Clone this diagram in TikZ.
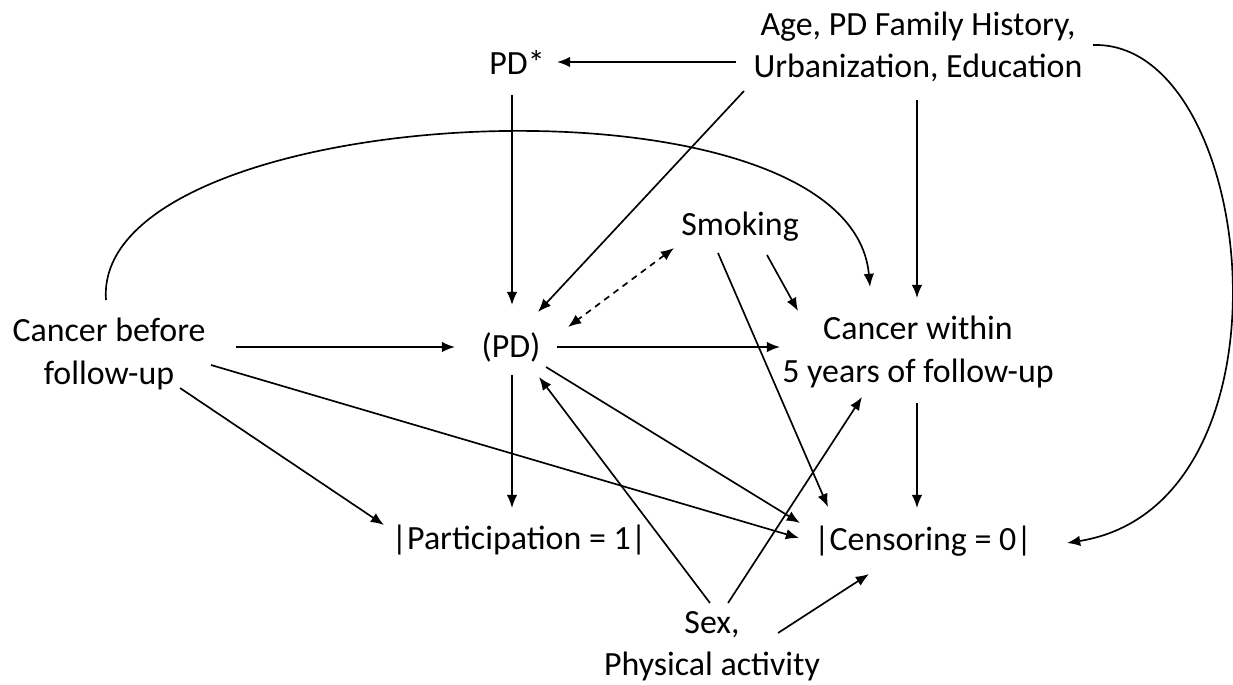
\documentclass[tikz,border=0pt]{standalone}
\usepackage{fontspec}
\setmainfont{Carlito}
\usetikzlibrary{arrows.meta,calc}

\begin{document}
\begin{tikzpicture}[x=0.02cm, y=-0.02cm,
		lbl/.style={align=center, inner sep=0pt, font=\fontsize{19.3}{24}\selectfont},
		>={Latex[length=7.5pt,width=6pt]}, line width=0.95pt]
	\useasboundingbox (0,0) rectangle (1233,684);
	\node[lbl] (conf) at (918,47)  {Age, PD Family History,\\Urbanization, Education};
	\node[lbl] (pdst) at (517,62)  {PD*};
	\node[lbl] (smk)  at (740,227) {Smoking};
	\node[lbl] (cb)   at (109,354) {Cancer before\\follow-up};
	\node[lbl] (pd)   at (511,347) {(PD)};
	\node[lbl] (cw)   at (918,352) {Cancer within\\5 years of follow-up};
	\node[lbl] (part) at (519,540) {|Participation = 1|};
	\node[lbl] (cens) at (923,541) {|Censoring = 0|};
	\node[lbl] (sex)  at (712,646) {Sex,\\Physical activity};
	% confounders
	\draw[->] ($(conf)+(-182,15)$) -- ($(pdst)+(40,0)$);
	\draw[->] ($(pdst)+(-5,33)$) -- ($(pd)+(1,-42)$);
	\draw[->] ($(conf)+(-174,44)$) -- ($(pd)+(27,-35)$);
	\draw[->] ($(conf)+(-1,53)$) -- ($(cw)+(-1,-54)$);
	\draw[->] ($(conf)+(175,-2)$) .. controls ($(conf)+(340,-7)$) and ($(cens)+(382,-36)$) .. ($(cens)+(144,2)$);
	% cancer before follow-up
	\draw[->] ($(cb)+(-3,-54)$) .. controls ($(cb)+(-18,-254)$) and ($(cw)+(-68,-292)$) .. ($(cw)+(-48,-65)$);
	\draw[->] ($(cb)+(127,-7)$) -- ($(pd)+(-56,0)$);
	\draw[->] ($(cb)+(71,34)$) -- ($(part)+(-135,-15)$);
	\draw[->] ($(cb)+(102,11)$) -- ($(cens)+(-124,-3)$);
	% smoking
	\draw[<->, dashed, dash pattern=on 3.5pt off 3pt] ($(smk)+(-66,21)$) -- ($(pd)+(57,-20)$);
	\draw[->] ($(smk)+(-22,26)$) -- ($(cens)+(-95,-34)$);
	\draw[->] ($(smk)+(27,28)$) -- ($(cw)+(-120,-41)$);
	% PD
	\draw[->] ($(pd)+(46,0)$) -- ($(cw)+(-138,-5)$);
	\draw[->] ($(pd)+(1,28)$) -- ($(part)+(-7,-32)$);
	\draw[->] ($(pd)+(35,20)$) -- ($(cens)+(-123,-18)$);
	\draw[->] ($(cw)+(-1,51)$) -- ($(cens)+(-6,-33)$);
	% sex, physical activity
	\draw[->] ($(sex)+(-2,-43)$) -- ($(pd)+(28,30)$);
	\draw[->] ($(sex)+(16,-43)$) -- ($(cw)+(-56,45)$);
	\draw[->] ($(sex)+(66,-13)$) -- ($(cens)+(-54,33)$);
\end{tikzpicture}
\end{document}
